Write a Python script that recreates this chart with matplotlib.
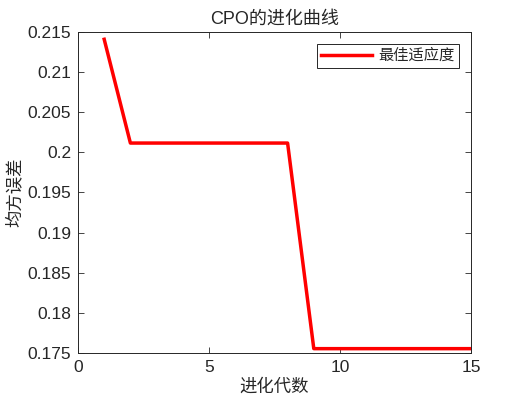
import numpy as np
import matplotlib.pyplot as plt

plt.rcParams['font.family'] = ['Liberation Sans', 'Noto Sans CJK SC', 'DejaVu Sans']

# iteration number and best fitness (MSE) per generation
gens = np.arange(1, 16)
best_fit = [0.21409, 0.20116, 0.20116, 0.20116, 0.20116, 0.20116, 0.20116, 0.20116,
            0.17554, 0.17554, 0.17554, 0.17554, 0.17554, 0.17554, 0.17554]

title = 'CPO的进化曲线'
xlab = '进化代数'
ylab = '均方误差'
legend_label = '最佳适应度'

txt = '#262626'

fig = plt.figure(figsize=(5.22, 4.07), dpi=100)
ax = fig.add_axes([0.1494, 0.1327, 0.7529, 0.7887])

ax.plot(gens, best_fit, color='red', linewidth=2.5, label=legend_label)

ax.set_xlim(0, 15)
ax.set_ylim(0.175, 0.215)
ax.set_xticks([0, 5, 10, 15])
ax.set_yticks(np.arange(0.175, 0.2151, 0.005))
ax.set_yticklabels(['0.175', '0.18', '0.185', '0.19', '0.195', '0.2', '0.205', '0.21', '0.215'])

ax.tick_params(direction='in', top=True, right=True, length=4, width=0.6,
               labelsize=12.5, colors=txt, pad=5)
for s in ax.spines.values():
    s.set_linewidth(0.7)
    s.set_color(txt)

ax.set_title(title, fontsize=13, color=txt, pad=6)
ax.set_xlabel(xlab, fontsize=12.5, color=txt, labelpad=2)
ax.set_ylabel(ylab, fontsize=12.5, color=txt, labelpad=3)

leg = ax.legend(loc='upper right', fontsize=11, fancybox=False, framealpha=1,
                edgecolor=txt, handlelength=3.3, handletextpad=0.4,
                borderaxespad=0.8, borderpad=0.3)
leg.get_frame().set_linewidth(0.7)
for t in leg.get_texts():
    t.set_color(txt)

fig.savefig('out.png', dpi=100)
